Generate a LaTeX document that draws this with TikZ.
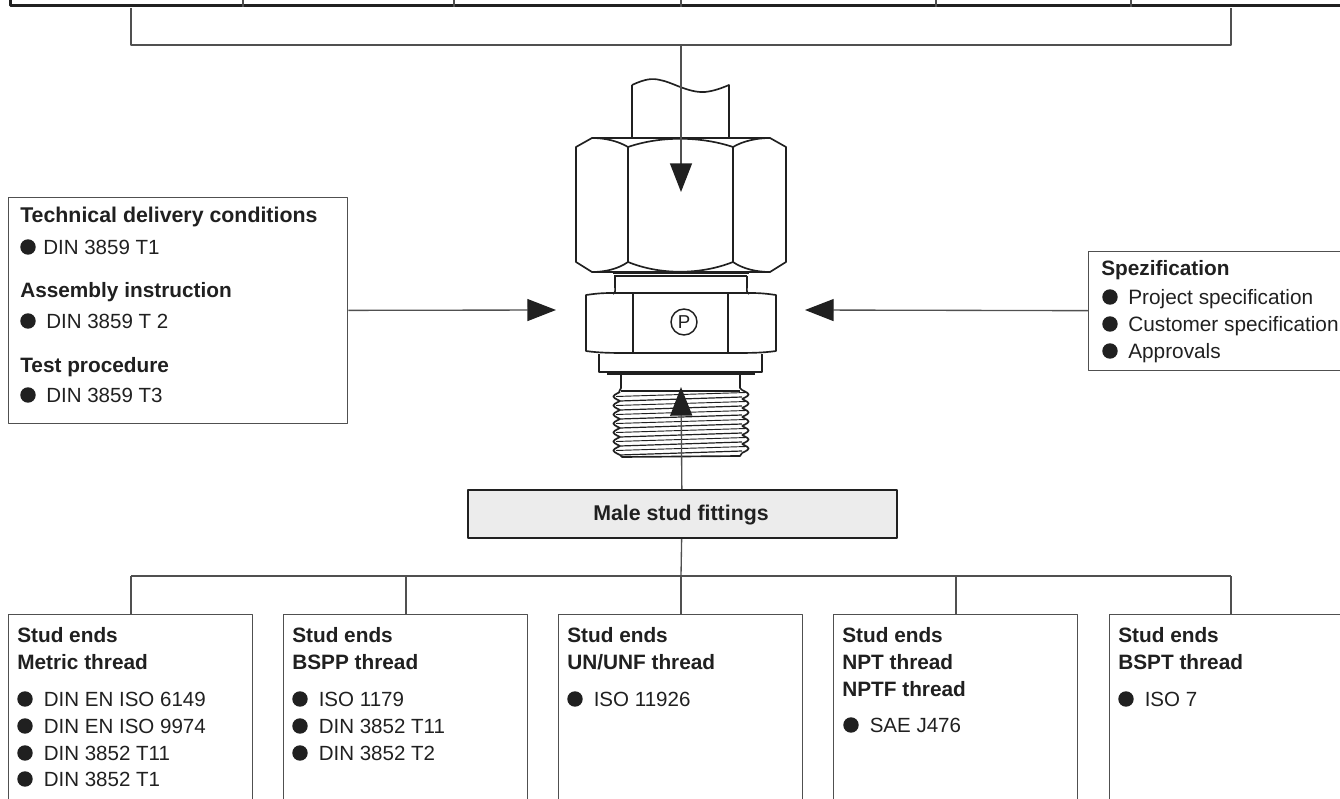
\documentclass[tikz,border=0pt]{standalone}
\usepackage{fontspec}
\setmainfont{Liberation Sans}
\usetikzlibrary{arrows.meta,positioning}
\definecolor{inkc}{RGB}{32,32,32}
\definecolor{linec}{RGB}{80,80,80}
\definecolor{titlegray}{RGB}{236,236,236}
\begin{document}
\begin{tikzpicture}[x=0.75pt, y=-0.75pt, font=\fontsize{15.4pt}{18pt}\selectfont, line join=round, text=inkc]
\tikzstyle{card}=[draw=linec, line width=1pt, anchor=north west, inner sep=0pt]
\tikzstyle{conn}=[draw=linec, line width=1pt]
\tikzstyle{flow}=[conn, -{Triangle[length=21.5pt, width=16.5pt, color=inkc]}]
\tikzstyle{head}=[anchor=base west, inner sep=0pt, font=\fontsize{15.6pt}{19.9pt}\selectfont\bfseries, align=left]
\tikzstyle{item}=[anchor=base west, inner sep=0pt]
\tikzstyle{dot}=[circle, fill=inkc, inner sep=0pt, minimum size=11.6pt]
\tikzstyle{part}=[draw=inkc, line width=1.25pt]
\tikzstyle{fine}=[draw=inkc, line width=0.7pt]
\useasboundingbox (0,0) rectangle (1340,799);
\clip (0,0) rectangle (1340,799);
% header strip, cut by the page
\node[draw=inkc, line width=2pt, anchor=south west, minimum width=1345*0.75pt, minimum height=30pt, inner sep=0pt] (strip) at (9,7) {};
\foreach \x/\n in {243/a,454/b,681/c,936/d,1131/e}{\coordinate (strip\n) at (\x,7); \draw[conn] (strip\n) -- ++(0,-7);}
\coordinate (topl) at (131,8);
\coordinate (topr) at (1231,8);
\coordinate (topbl) at (131,45);
\coordinate (topbr) at (1231,45);
\coordinate (topm) at (681,45);
\draw[conn] (topl) -- (topbl) -- (topbr) -- (topr);
% fitting
\path[part] (632,85) .. controls (645,79) and (652,78) .. (660,80) .. controls (672,82) and (688,93) .. (705,92) .. controls (714,91) and (722,88) .. (729,85) -- (729,138);
\path[part] (632,85) -- (632,138);
\path[part] (592,138) -- (770,138) -- (786,147) -- (786,262) -- (770,272) -- (592,272) -- (576,262) -- (576,147) -- cycle;
\path[part] (628,147) -- (628,262) (733,147) -- (733,262);
\path[part] (628,147) .. controls (660,136) and (700,136) .. (733,147);
\path[part] (628,262) .. controls (660,275) and (700,275) .. (733,262);
\path[part] (592,138) .. controls (605,138) and (618,141) .. (628,147);
\path[part] (770,138) .. controls (757,138) and (743,141) .. (733,147);
\path[part] (592,272) .. controls (605,272) and (618,269) .. (628,262);
\path[part] (770,272) .. controls (757,272) and (743,269) .. (733,262);
% neck and lower nut
\path[part] (613,273) -- (749,273) (614,276) -- (747,276);
\path[part] (615,276) -- (615,286) .. controls (615,290) and (616,292) .. (613,294);
\path[part] (747,276) -- (747,286) .. controls (747,290) and (746,292) .. (749,294);
\path[part] (586,295) .. controls (600,293) and (605,293) .. (615,293) -- (747,293) .. controls (757,293) and (762,293) .. (776,295) -- (776,351) .. controls (762,353) and (750,353) .. (728,353) -- (633,353) .. controls (612,353) and (600,353) .. (586,351) -- cycle;
\path[part] (633,294) -- (633,353) (728,294) -- (728,353);
\path[part] (599,354) -- (599,372) -- (762,372) -- (762,354);
\path[draw=inkc, line width=2pt] (607,373.5) -- (755,373.5);
\path[part] (621,374) -- (621,388) -- (619,392) (740,374) -- (740,388) -- (742,390);
\path[part] (621,391) -- (740,391);
\foreach \i in {0,...,6}{
  \pgfmathsetmacro{\ya}{392+\i*9}
  \path[part] (620,\ya) .. controls (611,\ya+4.5) .. (620,\ya+9);
  \path[part] (742,\ya-2) .. controls (751,\ya+2.5) .. (742,\ya+7);
  \path[fine] (616,\ya+4.5) -- (746,\ya+0.5);
  \path[fine, line width=0.9pt] (620,\ya+9) -- (742,\ya+5);
}
\path[part] (620,455) -- (622,457) -- (740,456) -- (742,453);
% P mark
\node[draw=inkc, line width=1.1pt, circle, minimum size=19.5pt, inner sep=0pt, font=\fontsize{14pt}{14pt}\selectfont] (pmark) at (684,322) {P};
% cards
\node[card, minimum width=339*0.75pt, minimum height=226*0.75pt] (techbox) at (8,197) {};
\node[card, minimum width=260*0.75pt, minimum height=119*0.75pt] (specbox) at (1088,250.5) {};
\node[card, draw=inkc, fill=titlegray, line width=1.6pt, minimum width=429*0.75pt, minimum height=48*0.75pt] (mainbox) at (466.5,489) {};
\node[font=\fontsize{16pt}{18pt}\selectfont\bfseries, inner sep=0pt, anchor=base] (maintext) at (681,520) {Male stud fittings};
\foreach \x/\n in {8/m,283/p,558/u,833/n,1109/t}{
  \node[card, minimum width=244*0.75pt, minimum height=200*0.75pt] (end\n) at (\x,614) {};
}
% arrows
\coordinate (tipdown) at (681,192);
\coordinate (tipup) at (681,387);
\coordinate (tipleft) at (556,310);
\coordinate (tipright) at (805,310);
\draw[flow] (topm) -- (tipdown);
\draw[flow] (mainbox) -- (tipup);
\draw[flow] (techbox) -- (tipleft);
\draw[flow] (specbox.west) -- (tipright);
% bus to the stud ends
\coordinate (busm) at (681,576);
\draw[conn] (mainbox) -- (busm);
\draw[conn] (131,576) coordinate (busl) -- (1231,576) coordinate (busr);
\foreach \x/\n in {131/m,406/p,681/u,956/n,1231/t}{
  \coordinate (drop\n) at (\x,576);
  \draw[conn] (drop\n) -- (drop\n |- end\n.north);
}
% left card
\node[head, font=\fontsize{16pt}{18pt}\selectfont\bfseries] (t1) at (20,222.5) {Technical delivery conditions};
\node[head] (t2) at (20,297) {Assembly instruction};
\node[head] (t3) at (20,372.5) {Test procedure};
\foreach \y/\x/\n/\txt in {247/43/a/DIN 3859 T1,321/46/b/DIN 3859 T 2,395/46/c/DIN 3859 T3}{
  \node[dot] (dot\n) at (28,\y) {};
  \node[item] (txt\n) at (\x,\y+7) {\txt};
}
% right card
\node[head] (s1) at (1101,275) {Spezification};
\foreach \y/\n/\txt in {297/d/Project specification,324/e/Customer specification,351/f/Approvals}{
  \node[dot] (dot\n) at (1110,\y) {};
  \node[item, font=\fontsize{15.6pt}{18pt}\selectfont] (txt\n) at (1128,\y+7) {\txt};
}
% stud end cards
\node[head] (h1) at (17,669.5) {Stud ends\\Metric thread};
\node[head] (h2) at (292,669.5) {Stud ends\\BSPP thread};
\node[head] (h3) at (567,669.5) {Stud ends\\UN/UNF thread};
\node[head] (h4) at (842,696) {Stud ends\\NPT thread\\NPTF thread};
\node[head] (h5) at (1118,669.5) {Stud ends\\BSPT thread};
\foreach \x/\y/\n/\txt in {25/699/g/DIN EN ISO 6149,25/726/h/DIN EN ISO 9974,25/753/i/DIN 3852 T11,25/779/j/DIN 3852 T1,
  300/699/k/ISO 1179,300/726/l/DIN 3852 T11,300/753/m/DIN 3852 T2,
  575/699/n/ISO 11926,
  851/725/o/SAE J476,
  1126/699/p/ISO 7}{
  \node[dot] (dot\n) at (\x,\y) {};
  \node[item] (txt\n) at (\x+18.5,\y+7) {\txt};
}
\end{tikzpicture}
\end{document}
